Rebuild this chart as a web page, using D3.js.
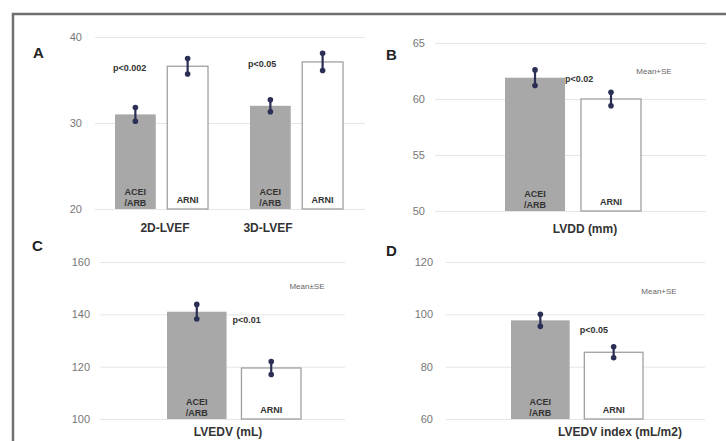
<!DOCTYPE html>
<head>
  <meta charset="utf-8">
  <script src="https://d3js.org/d3.v7.min.js"></script>
  <style>
    body { margin:0; background:#fff; }
    text { font-family: "Liberation Sans", Arial, sans-serif; }
    .tick text { fill:#777; font-size:11px; }
    .tick line { stroke:#e6e6e6; }
  </style>
</head>

<body>
<script>
  // groups (two treatments in every panel)
  const groups = ["ACEI/ARB", "ARNI"]

  // panel A
  const catsA = ["2D-LVEF", "3D-LVEF"]
  const aceiA = [31.0, 32.0], aceiSeA = [0.8, 0.7]
  const arniA = [36.6, 37.1], arniSeA = [0.9, 1.0]
  const pA = ["p<0.002", "p<0.05"]
  const ticksA = [20, 30, 40]

  // panel B
  const catsB = ["LVDD (mm)"]
  const aceiB = [61.9], aceiSeB = [0.7]
  const arniB = [60.0], arniSeB = [0.6]
  const pB = ["p<0.02"]
  const ticksB = [50, 55, 60, 65]

  // panel C
  const catsC = ["LVEDV (mL)"]
  const aceiC = [141.0], aceiSeC = [2.8]
  const arniC = [119.5], arniSeC = [2.5]
  const pC = ["p<0.01"]
  const ticksC = [100, 120, 140, 160]

  // panel D
  const catsD = ["LVEDV index (mL/m2)"]
  const aceiD = [97.7], aceiSeD = [2.3]
  const arniD = [85.5], arniSeD = [2.1]
  const pD = ["p<0.05"]
  const ticksD = [60, 80, 100, 120]

  var svg = d3.select("body").append("svg")
    .attr("width", 726)
    .attr("height", 441)

  // outer frame (left + top visible)
  svg.append("path")
    .attr("d", "M13,441 V14 H726")
    .attr("fill", "none")
    .attr("stroke", "#6f6f6f")
    .attr("stroke-width", 2.5)

  // gx = gridline extent, bx = extent of the bar groups
  var panels = [
    {letter:"A", lx:33, ly:58, cats:catsA, acei:aceiA, aseE:aceiSeA, arni:arniA, rseE:arniSeA, p:pA, ticks:ticksA,
     gx:[95, 365], bx:[115, 343], y0:209, y1:37, pad:0.311, inner:0.22, tickPad:13,
     labelX:[165, 268], labelY:232, pPos:"left", pDx:0, pDy:0, meanSE:null},
    {letter:"B", lx:386, ly:60, cats:catsB, acei:aceiB, aseE:aceiSeB, arni:arniB, rseE:arniSeB, p:pB, ticks:ticksB,
     gx:[435, 706], bx:[505, 641], y0:211, y1:43, pad:0, inner:0.21, tickPad:10,
     labelX:[585], labelY:233, pPos:"mid", pDx:0, pDy:4, meanSE:[654, 74, "Mean+SE"]},
    {letter:"C", lx:32, ly:251, cats:catsC, acei:aceiC, aseE:aceiSeC, arni:arniC, rseE:arniSeC, p:pC, ticks:ticksC,
     gx:[100, 345], bx:[167, 301], y0:419, y1:262, pad:0, inner:0.2, tickPad:10,
     labelX:[228], labelY:436, pPos:"mid", pDx:6, pDy:11, meanSE:[307, 289, "Mean±SE"]},
    {letter:"D", lx:386, ly:256, cats:catsD, acei:aceiD, aseE:aceiSeD, arni:arniD, rseE:arniSeD, p:pD, ticks:ticksD,
     gx:[446, 705], bx:[511, 643], y0:419, y1:262, pad:0, inner:0.2, tickPad:13,
     labelX:[620], labelY:436, pPos:"mid", pDx:10, pDy:13, meanSE:[659, 294, "Mean+SE"]}
  ]

  panels.forEach(function(P) {
    var g = svg.append("g")

    var y = d3.scaleLinear()
      .domain([P.ticks[0], P.ticks[P.ticks.length - 1]])
      .range([P.y0, P.y1])

    var x = d3.scaleBand()
      .domain(P.cats)
      .range(P.bx)
      .paddingInner(P.pad)
      .paddingOuter(0)

    var xg = d3.scaleBand()
      .domain(groups)
      .range([0, x.bandwidth()])
      .paddingInner(P.inner)

    // y axis with gridlines
    g.append("g")
      .attr("transform", "translate(" + P.gx[0] + ",0)")
      .call(d3.axisLeft(y).tickValues(P.ticks).tickSize(-(P.gx[1] - P.gx[0])).tickPadding(P.tickPad))
      .call(function(a) { a.select(".domain").remove() })

    // panel letter
    g.append("text")
      .attr("x", P.lx).attr("y", P.ly)
      .attr("font-size", 15).attr("font-weight", "bold").attr("fill", "#222")
      .text(P.letter)

    var rows = P.cats.map(function(c, i) {
      return {cat:c, i:i, vals:[
        {grp:groups[0], v:P.acei[i], se:P.aseE[i]},
        {grp:groups[1], v:P.arni[i], se:P.rseE[i]}
      ]}
    })

    rows.forEach(function(r) {
      var cg = g.append("g").attr("transform", "translate(" + x(r.cat) + ",0)")

      cg.selectAll("rect")
        .data(r.vals)
        .enter().append("rect")
        .attr("x", function(d) { return xg(d.grp) })
        .attr("y", function(d) { return y(d.v) })
        .attr("width", xg.bandwidth())
        .attr("height", function(d) { return y.range()[0] - y(d.v) })
        .attr("fill", function(d, i) { return i == 0 ? "#a8a8a8" : "#fff" })
        .attr("stroke", function(d, i) { return i == 0 ? "none" : "#a0a0a0" })
        .attr("stroke-width", 1.3)

      // error bars
      r.vals.forEach(function(d) {
        var cx = xg(d.grp) + xg.bandwidth() / 2
        cg.append("line")
          .attr("x1", cx).attr("x2", cx)
          .attr("y1", y(d.v + d.se)).attr("y2", y(d.v - d.se))
          .attr("stroke", "#2b2e55").attr("stroke-width", 2.2)
        ;[d.v + d.se, d.v - d.se].forEach(function(e) {
          cg.append("circle").attr("cx", cx).attr("cy", y(e)).attr("r", 2.8).attr("fill", "#2b2e55")
        })
      })

      // labels inside bars
      var bx0 = xg(groups[0]) + xg.bandwidth() / 2
      var bx1 = xg(groups[1]) + xg.bandwidth() / 2
      var base = y.range()[0]
      ;[["ACEI", base - 14], ["/ARB", base - 3]].forEach(function(t) {
        cg.append("text").attr("x", bx0).attr("y", t[1])
          .attr("text-anchor", "middle").attr("font-size", 9).attr("font-weight", "bold").attr("fill", "#333")
          .text(t[0])
      })
      cg.append("text").attr("x", bx1).attr("y", base - 6)
        .attr("text-anchor", "middle").attr("font-size", 9).attr("font-weight", "bold").attr("fill", "#333")
        .text("ARNI")

      // p value
      var top0 = y(r.vals[0].v)
      var pt = cg.append("text")
        .attr("font-size", 9).attr("font-weight", "bold").attr("fill", "#333")
        .text(P.p[r.i])
      if (P.pPos == "left") {
        pt.attr("x", xg(groups[0]) - 2).attr("y", y(r.vals[1].v) + 5)
      } else {
        pt.attr("x", xg(groups[0]) + xg.bandwidth() + P.pDx).attr("y", top0 + P.pDy)
      }

      // category label
      g.append("text")
        .attr("x", P.labelX[r.i]).attr("y", P.labelY)
        .attr("text-anchor", "middle").attr("font-size", 12).attr("font-weight", "bold").attr("fill", "#333")
        .text(r.cat)
    })

    if (P.meanSE) {
      g.append("text")
        .attr("x", P.meanSE[0]).attr("y", P.meanSE[1])
        .attr("text-anchor", "middle").attr("font-size", 8).attr("fill", "#666")
        .text(P.meanSE[2])
    }
  })
</script>
</body>
